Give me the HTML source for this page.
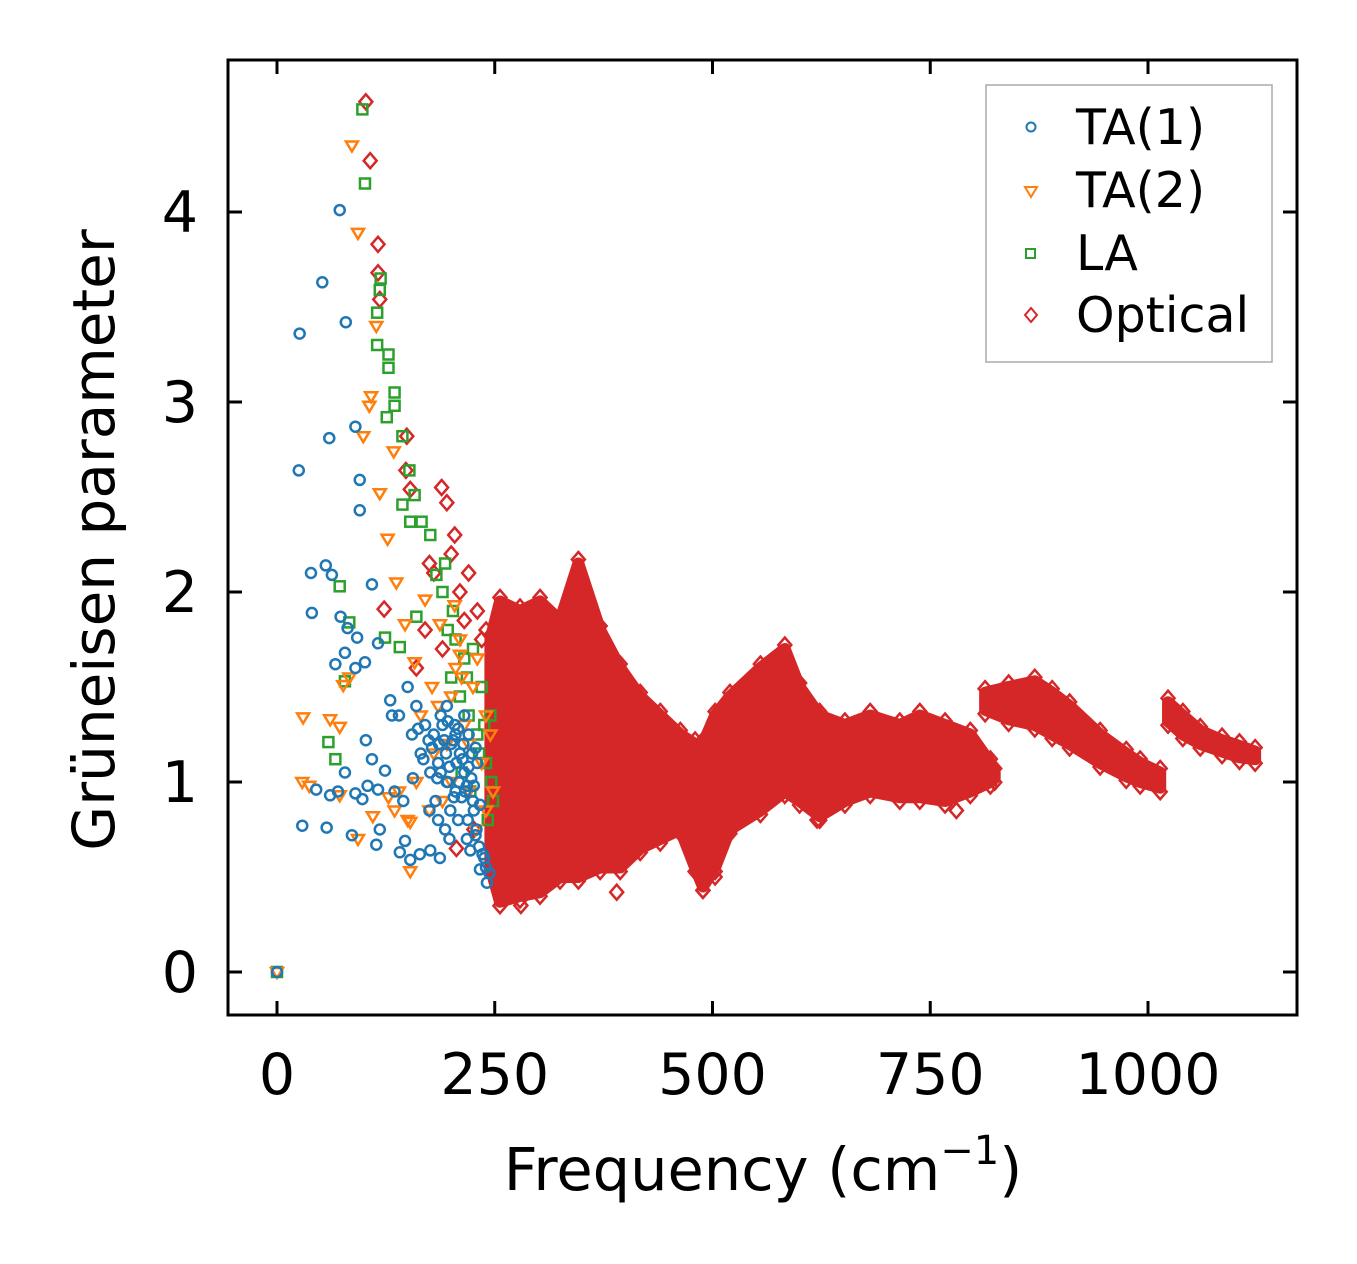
<!DOCTYPE html>
<html><head><meta charset="utf-8">
<style>
html,body{margin:0;padding:0;background:#fff;}
svg{display:block;font-family:"DejaVu Sans","Liberation Sans",sans-serif;}
</style></head>
<body>
<svg id="chart" width="1357" height="1264" viewBox="0 0 1357 1264" xmlns="http://www.w3.org/2000/svg">
<rect x="0" y="0" width="1357" height="1264" fill="#fff"/>
<g id="marks"></g>
<rect x="228" y="60" width="1069" height="955" fill="none" stroke="#000" stroke-width="3"/>
<g id="axes"></g>
<text x="763" y="1190" font-size="59" text-anchor="middle">Frequency (cm<tspan font-size="40" dy="-26">−1</tspan><tspan dy="26">)</tspan></text>
<text transform="translate(114,540) rotate(-90)" font-size="58" text-anchor="middle">Grüneisen parameter</text>
<g>
<rect x="986" y="85" width="286" height="277" fill="#fff" stroke="#aaa" stroke-width="1.5"/>
<circle cx="1031" cy="127" r="4.5" fill="none" stroke="#1f77b4" stroke-width="2"/>
<text x="1076" y="144" font-size="49">TA(1)</text>
<path d="M1025,187 L1037,187 L1031,197 Z" fill="none" stroke="#ff7f0e" stroke-width="2"/>
<text x="1076" y="207" font-size="49">TA(2)</text>
<rect x="1026" y="249" width="9" height="9" fill="none" stroke="#2ca02c" stroke-width="2"/>
<text x="1076" y="270" font-size="49">LA</text>
<path d="M1031,308 L1037,315 L1031,322 L1025,315 Z" fill="none" stroke="#d62728" stroke-width="2"/>
<text x="1076" y="332" font-size="49">Optical</text>
</g>
</svg>
<script>
const xTicks=[0,250,500,750,1000];
const yTicks=[0,1,2,3,4];
const ta1F=[0,26,25,52,72,79,60,90,95,95,39,56,63,109,40,73,81,92,67,78,90,101,116,29,45,57,61,70,78,86,90,98,104,109,102,116,118,114,124,130,132,141,147,153,164,176,187,193,222,233,241,
180,185,190,195,200,205,210,215,220,225,230,182,188,194,199,204,209,214,219,224,229,176,186,196,206,216,226,170,160,150,140,135,145,155,165,175,185,195,205,215,198,208,218,228,236,240,244,238,232,
178,184,192,198,203,208,213,218,223,228,233,188,196,202,212,220,226,174,168,162,156];
const ta1G=[0,3.36,2.64,3.63,4.01,3.42,2.81,2.87,2.59,2.43,2.10,2.14,2.09,2.04,1.89,1.87,1.81,1.76,1.62,1.68,1.60,1.63,1.73,0.77,0.96,0.76,0.93,0.95,1.05,0.72,0.94,0.91,0.98,1.12,1.22,0.96,0.75,0.67,1.06,1.43,1.35,0.63,0.69,0.59,0.62,0.64,0.60,0.75,0.64,0.54,0.47,
1.25,1.1,1.3,1.0,1.2,0.95,1.15,1.05,1.25,0.9,1.1,0.9,1.35,1.15,0.85,1.3,1.0,1.2,0.8,1.15,0.75,1.05,1.2,1.0,1.1,0.95,0.85,1.3,1.4,1.5,1.35,0.95,0.9,1.25,1.15,0.85,0.8,1.4,1.25,1.35,0.7,0.8,0.7,0.72,0.62,0.55,0.52,0.6,0.66,
1.18,1.02,1.22,1.08,0.92,1.28,1.12,0.98,1.02,1.18,0.88,1.05,1.32,1.22,0.92,1.08,0.98,1.22,1.12,1.28,1.02];
const ta2F=[0,86,93,106,108,99,118,114,134,127,137,147,30,29,37,61,72,76,83,93,72,110,128,135,153,153,158,170,178,187,204,210,
185,195,205,215,225,235,245,190,200,210,220,230,240,180,200,220,240,165,175,212,228,248,160,150,140];
const ta2G=[0,4.35,3.89,2.98,3.03,2.82,2.52,3.40,2.74,2.28,2.05,1.83,1.34,1.00,0.98,1.33,1.29,1.51,1.55,0.70,0.93,0.82,0.92,0.85,0.53,0.79,1.63,1.96,1.50,1.83,1.93,1.67,
1.4,1.2,1.6,1.3,1.5,1.1,1.25,0.9,1.0,1.75,0.95,1.65,0.85,1.15,1.45,1.2,1.35,1.35,0.85,1.55,0.75,0.95,1.0,0.8,0.95];
const laF=[0,98,101,119,118,115,115,128,128,135,135,126,144,152,158,144,153,166,176,72,83,78,59,67,124,141,160,183,193,
200,205,210,215,220,225,230,235,240,245,248,212,222,232,242,202,218,238,246,190,196];
const laG=[0,4.54,4.15,3.65,3.59,3.47,3.30,3.25,3.18,3.05,2.98,2.92,2.82,2.64,2.51,2.46,2.37,2.37,2.30,2.03,1.84,1.53,1.21,1.12,1.76,1.71,1.87,2.09,2.15,
1.55,1.75,1.45,1.65,1.35,1.7,1.25,1.5,1.1,1.35,0.9,1.05,0.95,1.15,0.8,1.9,1.55,1.3,1.0,2.0,1.8];
const optF=[102,107,116,116,118,123,149,148,153,189,195,204,170,180,190,200,210,220,230,240,160,175,215,235,206,226,280,390,489,503,620,780];
const optG=[4.58,4.27,3.83,3.68,3.54,1.91,2.82,2.64,2.54,2.55,2.47,2.30,1.8,2.1,1.7,2.2,2.0,2.1,1.9,1.8,1.6,2.15,1.85,1.75,0.65,0.75,0.35,0.42,0.43,0.5,0.8,0.85];
const band1F=[245,256,279,302,325,346,371,394,417,440,463,480,489,503,520,555,583,600,623,652,681,715,738,767,796,819,824];
const band1Up=[1.75,1.95,1.90,1.95,1.85,2.15,1.80,1.60,1.45,1.35,1.25,1.20,1.20,1.35,1.45,1.60,1.70,1.50,1.35,1.30,1.35,1.30,1.35,1.30,1.25,1.10,1.05];
const band1Lo=[0.55,0.37,0.40,0.42,0.50,0.50,0.55,0.55,0.65,0.70,0.75,0.55,0.45,0.55,0.75,0.85,0.95,0.90,0.82,0.90,0.95,0.92,0.92,0.90,0.95,1.00,1.02];
const band2F=[813,840,870,890,910,945,975,991,1014];
const band2Up=[1.47,1.50,1.53,1.47,1.40,1.25,1.15,1.10,1.05];
const band2Lo=[1.38,1.33,1.30,1.25,1.20,1.10,1.03,1.00,0.97];
const band3F=[1023,1040,1060,1085,1105,1123];
const band3Up=[1.42,1.35,1.27,1.22,1.19,1.16];
const band3Lo=[1.32,1.25,1.20,1.16,1.13,1.12];

const X0=277,XS=0.871,Y0=972,YS=190;
const sx=f=>X0+f*XS, sy=g=>Y0-g*YS;
const NS="http://www.w3.org/2000/svg";
const marks=document.getElementById('marks');
const axes=document.getElementById('axes');
function mk(tag,attrs,parent){const e=document.createElementNS(NS,tag);for(const k in attrs)e.setAttribute(k,attrs[k]);parent.appendChild(e);return e;}
const RED="#d62728";
function diamond(x,y,parent){return mk('path',{d:`M${x},${y-7.5} L${x+6.5},${y} L${x},${y+7.5} L${x-6.5},${y} Z`,fill:'none',stroke:RED,'stroke-width':2.5},parent);}
function drawBand(F,U,L,nm){
  let pts=F.map((f,i)=>sx(f)+','+sy(U[i]));
  for(let i=F.length-1;i>=0;i--)pts.push(sx(F[i])+','+sy(L[i]));
  const p=mk('polygon',{points:pts.join(' '),fill:RED,stroke:RED,'stroke-width':12,'stroke-linejoin':'round'},marks);
  
  
  F.forEach((f,i)=>{
    const a=diamond(sx(f),sy(U[i])-4,marks);
    
    
    const b=diamond(sx(f),sy(L[i])+4,marks);
    
    
  });
}
drawBand(band1F,band1Up,band1Lo,'optical-band-1');
drawBand(band2F,band2Up,band2Lo,'optical-band-2');
drawBand(band3F,band3Up,band3Lo,'optical-band-3');
optF.forEach((f,i)=>{const d=diamond(sx(f),sy(optG[i]),marks);
  
  });
laF.forEach((f,i)=>{const r=mk('rect',{x:sx(f)-5,y:sy(laG[i])-5,width:10,height:10,fill:'none',stroke:'#2ca02c','stroke-width':2.5},marks);
  
  });
ta2F.forEach((f,i)=>{const x=sx(f),y=sy(ta2G[i]);const t=mk('path',{d:`M${x-6},${y-4} L${x+6},${y-4} L${x},${y+6} Z`,fill:'none',stroke:'#ff7f0e','stroke-width':2.5},marks);
  
  });
ta1F.forEach((f,i)=>{const c=mk('circle',{cx:sx(f),cy:sy(ta1G[i]),r:5,fill:'none',stroke:'#1f77b4','stroke-width':2.5},marks);
  
  });
xTicks.forEach(t=>{const x=sx(t);
  mk('line',{x1:x,y1:1015,x2:x,y2:1001,stroke:'#000','stroke-width':3},axes);
  mk('line',{x1:x,y1:60,x2:x,y2:74,stroke:'#000','stroke-width':3},axes);
  const l=mk('text',{x:x,y:1094,'font-size':57,'text-anchor':'middle'},axes);l.textContent=t;
  
  });
yTicks.forEach(t=>{const y=sy(t);
  mk('line',{x1:228,y1:y,x2:242,y2:y,stroke:'#000','stroke-width':3},axes);
  mk('line',{x1:1297,y1:y,x2:1283,y2:y,stroke:'#000','stroke-width':3},axes);
  const l=mk('text',{x:198,y:y+20,'font-size':57,'text-anchor':'end'},axes);l.textContent=t;
  
  });
</script>
</body></html>
